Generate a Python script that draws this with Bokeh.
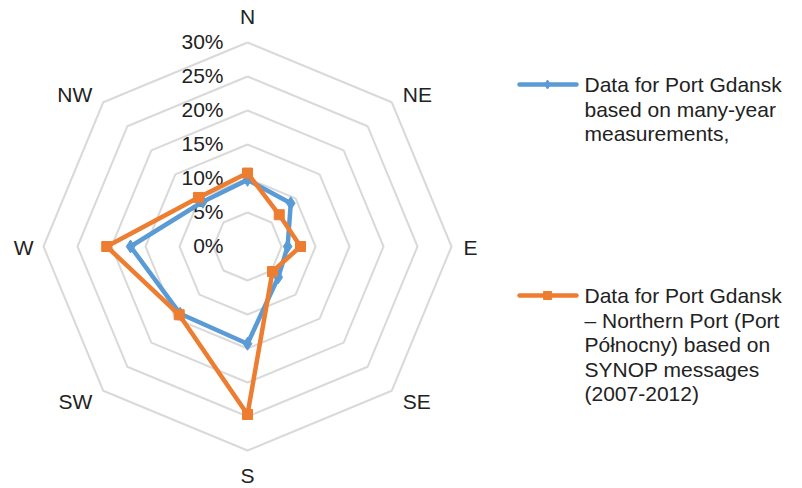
import math
from bokeh.plotting import figure
from bokeh.models import Range1d
from bokeh.core.properties import value
from bokeh.embed import file_html
from bokeh.resources import INLINE

directions = ["N", "NE", "E", "SE", "S", "SW", "W", "NW"]
tick_values = [0, 5, 10, 15, 20, 25, 30]
tick_labels = ["0%", "5%", "10%", "15%", "20%", "25%", "30%"]
series1_name = ["Data for Port Gdansk", "based on many-year", "measurements,"]
series1 = [9.8, 9.0, 5.9, 6.4, 14.3, 14.0, 17.2, 9.3]
series2_name = ["Data for Port Gdansk", "\u2013 Northern Port (Port", "P\u00f3\u0142nocny) based on",
                "SYNOP messages", "(2007-2012)"]
series2 = [10.8, 6.6, 7.8, 5.2, 24.7, 14.2, 20.7, 10.2]

BLUE = "#5b9bd5"
ORANGE = "#ed7d31"
GRID = "#d9d9d9"
FONT = value("Liberation Sans")

# layout: pixel geometry (figure placed at page top-left)
W, H = 802, 488
CX, CY = 247, 246          # centre on screen
PX = 6.8                   # pixels per percent


def sx(px):  # screen x -> data x
    return (px - CX) / PX


def sy(py):  # screen y -> data y
    return (CY - py) / PX


angles = [math.pi / 2 - i * 2 * math.pi / len(directions) for i in range(len(directions))]


def polar(vals):
    xs = [v * math.cos(a) for v, a in zip(vals, angles)]
    ys = [v * math.sin(a) for v, a in zip(vals, angles)]
    return xs, ys


p = figure(width=W, height=H, output_backend="svg", toolbar_location=None,
           x_range=Range1d(sx(0), sx(W)), y_range=Range1d(sy(H), sy(0)),
           x_axis_type=None, y_axis_type=None, min_border=0,
           outline_line_color=None, background_fill_color="white")
p.xgrid.visible = False
p.ygrid.visible = False

# octagonal grid rings
for t in tick_values[1:]:
    xs, ys = polar([t] * len(directions))
    p.line(xs + xs[:1], ys + ys[:1], line_color=GRID, line_width=2)

# tick labels (right aligned to the left of the N spoke)
p.text(x=[sx(223)] * len(tick_values), y=[t + sy(CY - 1) for t in tick_values],
       text=tick_labels, text_font=FONT, text_font_size="21px", text_color="#222222",
       text_align="right", text_baseline="middle")

# category labels
offsets = {"N": (0, -26, "center"), "NE": (11, -8, "left"), "E": (12, 1, "left"),
           "SE": (11, 11, "left"), "S": (0, 25, "center"), "SW": (-11, 11, "right"),
           "W": (-10, 1, "right"), "NW": (-11, -8, "right")}
vx, vy = polar([30] * len(directions))
for d, x0, y0 in zip(directions, vx, vy):
    dx, dy, al = offsets[d]
    p.text(x=[x0 + dx / PX], y=[y0 - dy / PX], text=[d], text_font=FONT,
           text_font_size="21px", text_color="#222222", text_align=al, text_baseline="middle")

# series
for vals, col, marker, msize in [(series1, BLUE, "diamond", 13), (series2, ORANGE, "square", 10)]:
    xs, ys = polar(vals)
    p.line(xs + xs[:1], ys + ys[:1], line_color=col, line_width=4.5, line_join="round")
    p.scatter(xs, ys, marker=marker, size=msize, fill_color=col, line_color=col)

# legend
for names, col, marker, msize, y0 in [(series1_name, BLUE, "diamond", 9, 84),
                                      (series2_name, ORANGE, "square", 8, 295)]:
    p.line([sx(519), sx(576)], [sy(y0), sy(y0)], line_color=col, line_width=4.5, line_cap="round")
    p.scatter([sx(547)], [sy(y0)], marker=marker, size=msize, fill_color=col, line_color=col)
    p.text(x=[sx(584)] * len(names), y=[sy(y0 + 24.5 * i) for i in range(len(names))],
           text=names, text_font=FONT, text_font_size="21px", text_color="#222222",
           text_align="left", text_baseline="middle")

open("out.html", "w").write(file_html(p, INLINE))
